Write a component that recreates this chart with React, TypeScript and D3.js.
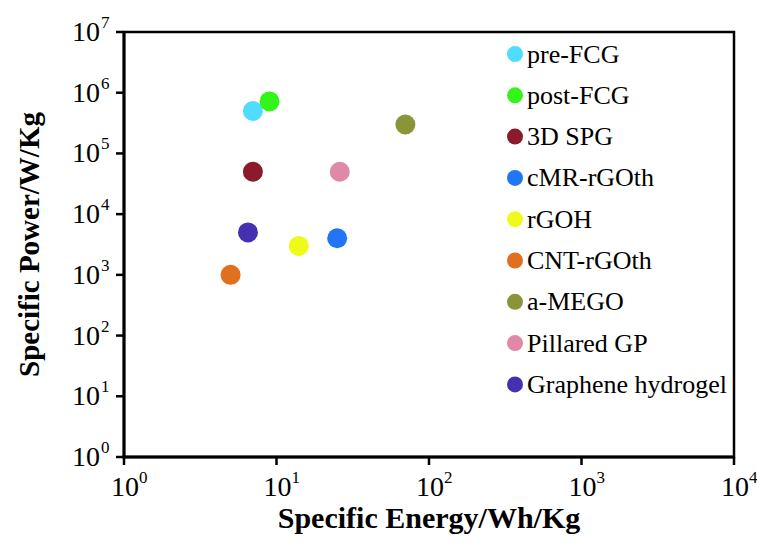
import React from "react";
import * as d3 from "d3";

const names = ["pre-FCG", "post-FCG", "3D SPG", "cMR-rGOth", "rGOH", "CNT-rGOth", "a-MEGO", "Pillared GP", "Graphene hydrogel"];
const energy = [7, 9, 7, 25, 14, 5, 70, 26, 6.5];
const power = [5e5, 7.2e5, 5e4, 4e3, 3e3, 1e3, 3e5, 5e4, 5e3];
const colors = ["#50DCFC", "#33F51A", "#8B1A2B", "#2176F5", "#F0FA1A", "#E07020", "#8A953A", "#E088A8", "#4430B0"];
const xTicks = [1, 10, 100, 1000, 10000];
const yTicks = [1, 10, 100, 1e3, 1e4, 1e5, 1e6, 1e7];

const W = 757, H = 550;
const L = 124, R = 734, T = 32, B = 457;
const FONT = "'Liberation Serif', 'Times New Roman', serif";

export default function App() {
  const x = d3.scaleLog().domain([1, 1e4]).range([L, R]);
  const y = d3.scaleLog().domain([1, 1e7]).range([B, T]);
  const exp = (v: number) => Math.round(Math.log10(v));
  return (
    <svg width={W} height={H} style={{ position: "absolute", left: 0, top: 0, background: "#fff" }} fontFamily={FONT}>
      <rect x={0} y={0} width={W} height={H} fill="#fff" />
      {/* frame */}
      <rect x={L} y={T} width={R - L} height={B - T} fill="none" stroke="#000" strokeWidth={2.5} />
      <line x1={L} x2={L} y1={T - 1} y2={B + 1.5} stroke="#000" strokeWidth={3} />
      <line x1={L - 1.5} x2={R + 1} y1={B} y2={B} stroke="#000" strokeWidth={3} />
      {/* y ticks */}
      {yTicks.map((t) => (
        <g key={"y" + t}>
          <line x1={L - 8} x2={L} y1={y(t)} y2={y(t)} stroke="#000" strokeWidth={2.5} />
          <text x={100} y={y(t) + 9} fontSize={28} textAnchor="end">10</text>
          <text x={101} y={y(t) - 4} fontSize={17} textAnchor="start">{exp(t)}</text>
        </g>
      ))}
      {/* x ticks */}
      {xTicks.map((t) => (
        <g key={"x" + t}>
          <line x1={x(t)} x2={x(t)} y1={B} y2={B + 8} stroke="#000" strokeWidth={2.5} />
          <text x={x(t) + 1} y={496} fontSize={28} textAnchor="middle">10</text>
          <text x={x(t) + 15} y={483} fontSize={17} textAnchor="start">{exp(t)}</text>
        </g>
      ))}
      {/* points */}
      {names.map((n, i) => (
        <circle key={n} cx={x(energy[i])} cy={y(power[i])} r={10} fill={colors[i]} />
      ))}
      {/* legend */}
      {names.map((n, i) => (
        <g key={"l" + n}>
          <circle cx={515} cy={54 + i * 41.3} r={8} fill={colors[i]} />
          <text x={527} y={54 + i * 41.3 + 8.5} fontSize={26}>{n}</text>
        </g>
      ))}
      {/* axis titles */}
      <text x={(L + R) / 2} y={528} fontSize={30} fontWeight="bold" textAnchor="middle">Specific Energy/Wh/Kg</text>
      <text transform={`translate(39, ${(T + B) / 2}) rotate(-90)`} fontSize={29} fontWeight="bold" textAnchor="middle">Specific Power/W/Kg</text>
    </svg>
  );
}
